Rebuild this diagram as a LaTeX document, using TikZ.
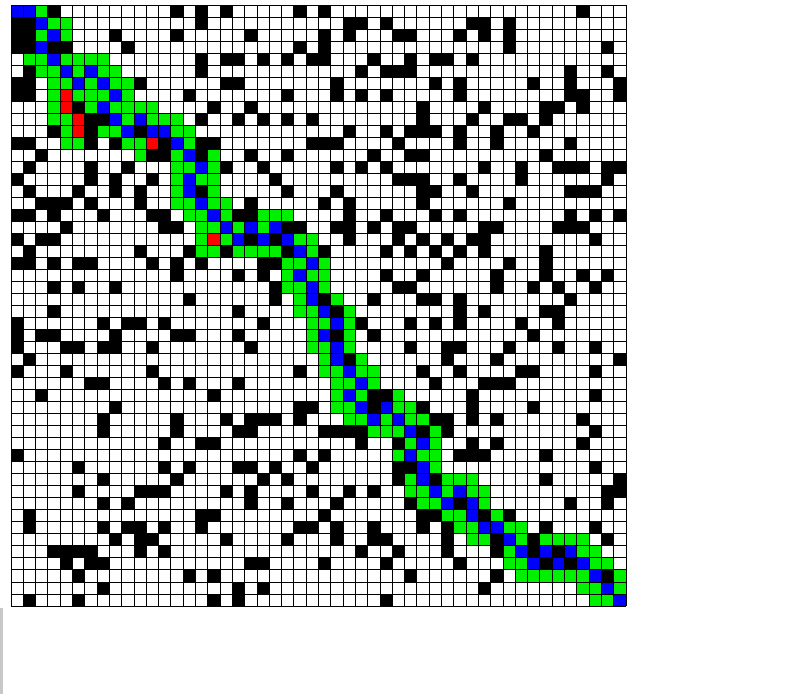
\documentclass[tikz,border=0pt]{standalone}
\usepackage{tikz}
\definecolor{Wall}{HTML}{000000}
\definecolor{Open}{HTML}{00F000}
\definecolor{Route}{HTML}{0000FF}
\definecolor{Probe}{HTML}{FF0000}
\definecolor{Edge}{HTML}{C8C8C8}
\newcommand\gridx{11}
\newcommand\gridy{5}
\newcommand\cellw{12.3}
\newcommand\cellh{12.02}
\tikzset{
  wall/.style={fill=Wall},
  open/.style={fill=Open},
  route/.style={fill=Route},
  probe/.style={fill=Probe},
  gridline/.style={draw=black, line width=0.9pt}
}

\begin{document}
\begin{tikzpicture}[x=1pt,y=-1pt]
    \useasboundingbox (0,0) rectangle (790,694);
    \fill[Edge] (0,608) rectangle (3,694);
    % walls
    \foreach \r/\cols in {0/{3,13,15,17,23,25,46},1/{0,1,15,27,28,30,37,38,40},
      2/{0,1,8,13,19,25,27,31,32,36,38,40},3/{0,1,3,4,9,23,25,40,48},
      4/{15,17,18,20,22,24,25,29,32,34,35,37},5/{1,15,28,30,31,32,45,48},
      6/{0,1,10,17,18,26,34,36,42,45,49},7/{0,1,14,22,26,28,30,36,45,46,49},
      8/{5,16,19,33,38,43,44,46},9/{6,7,15,18,20,22,24,33,37,40,41,43},
      10/{3,6,10,27,30,32,33,34,36,39,42},11/{0,1,6,8,12,15,16,24,25,26,31,36,39,45},
      12/{2,11,12,15,19,22,29,32,33,43},13/{1,6,9,17,20,26,28,30,38,41,44,45,46,48,49},
      14/{0,6,8,11,21,31,32,33,36,41,48},15/{1,5,8,10,15,22,26,33,34,37,45,46,47},
      16/{2,3,4,6,10,19,25,27,33,40},17/{0,1,3,7,11,12,18,19,27,30,34,36,45,47,49},
      18/{4,12,13,22,23,26,27,29,31,32,38,39,44,45,46},19/{0,2,3,19,21,27,31,33,35,37,38,47},
      20/{1,10,14,17,22,25,30,32,34,36,38,43},21/{0,1,3,5,6,11,13,15,20,21,35,40,43},
      22/{13,18,20,30,33,39,43,46,48},23/{3,5,8,21,31,32,39,42,44,47},
      24/{14,21,25,29,33,34,36,45},25/{3,18,26,36,38,43,44},
      26/{0,7,9,10,12,20,28,32,34,36,41,44},27/{0,2,3,8,13,14,18,26,29,42},
      28/{0,4,5,7,8,11,19,32,35,36,40,44,47},29/{1,27,35,39,49},
      30/{0,4,11,23,33,36,41,42,47},31/{6,7,12,14,18,34,38,39,40},
      32/{2,16,29,30,37,47},33/{8,23,24,29,33,37,42},
      34/{7,13,17,19,20,21,23,34,35,37,39,46},35/{7,13,18,19,25,26,27,28,33,35,47},
      36/{12,15,16,28,31,37,39,46},37/{0,23,25,36,37,38,43},
      38/{5,12,14,18,19,21,24,31,32,47},39/{7,13,20,22,31,34,43,49},
      40/{5,10,11,12,17,19,24,27,29,48,49},41/{7,9,19,22,26,32,36,45,48},
      42/{1,15,16,25,33,34,38,40},43/{1,7,9,10,12,15,23,24,26,29,33,35,43,47},
      44/{8,10,11,17,22,26,29,30,35,39,42,48},45/{3,4,5,6,10,12,28,31,35,39,42,44},
      46/{4,6,7,19,20,25,30,36,43,45},47/{5,14,16,32,39,48},
      48/{7,18,20,38},49/{1,5,16,18,30}}
      \foreach \c in \cols
        \fill[wall] ({\gridx+\cellw*\c},{\gridy+\cellh*\r}) rectangle ++(\cellw,\cellh);
    % explored cells
    \foreach \r/\cols in {0/{2},1/{3,4},2/{2,4},4/{1,2,4,5,6,7},5/{2,3,5,7,8},
      6/{3,4,6,8,9},7/{3,5,6,7,9},8/{3,6,8,9,10,11},9/{3,4,9,11,12,13},
      10/{4,7,8,13,14},11/{4,5,9,10,14},12/{10,13,16},13/{13,14,16},
      14/{13,15,16},15/{13,16},16/{13,14,16,17},17/{14,15,17,20,21,22},
      18/{15,16,18,20},19/{15,17,23,24},20/{15,16,18,19,20,21,24},
      21/{22,23,25},22/{22,24,25},23/{22,23,25},24/{23,26},25/{23,24,27},
      26/{24,25,27},27/{24,27},28/{24,25,27},29/{25,28},30/{25,26,28,29},
      31/{26,27,29},32/{26,28,31},33/{26,27,31,32},34/{27,28,30,32,33},
      35/{29,30,31,34},36/{32,34},37/{31,33,34},38/{34},39/{32,35,36,37},
      40/{32,33,35,37,38},41/{33,34,38},42/{35,36,39},43/{36,37,40,41},
      44/{37,38,41,43,44,45,46},45/{40,46,47},46/{40,41,47,48},
      47/{41,42,43,44,45,46,49},48/{46,47,49},49/{47,48}}
      \foreach \c in \cols
        \fill[open] ({\gridx+\cellw*\c},{\gridy+\cellh*\r}) rectangle ++(\cellw,\cellh);
    % path
    \foreach \r/\cols in {0/{0,1},1/{2},2/{3},3/{2},4/{3},5/{4,6},6/{5,7},7/{8},8/{7},
      9/{8,10},10/{9,11,12},11/{13},12/{14},13/{15},14/{14},15/{14},16/{15},17/{16},
      18/{17,19,21},19/{18,20,22},20/{23},21/{24},22/{23},23/{24},24/{24},25/{25},
      26/{26},27/{25},28/{26},29/{26},30/{27},31/{28},32/{27},33/{28,30},34/{29,31},
      35/{32},36/{33},37/{32},38/{33},39/{33},40/{34,36},41/{35,37},42/{37},
      43/{38,39},44/{40},45/{41,43,45},46/{42,44,46},47/{47},48/{48},49/{49}}
      \foreach \c in \cols
        \fill[route] ({\gridx+\cellw*\c},{\gridy+\cellh*\r}) rectangle ++(\cellw,\cellh);
    % current cells
    \foreach \r/\c in {7/4,8/4,9/5,10/5,11/11,19/16}
      \fill[probe] ({\gridx+\cellw*\c},{\gridy+\cellh*\r}) rectangle ++(\cellw,\cellh);
    % grid
    \foreach \i in {0,...,50} {
      \draw[gridline] ({\gridx+\cellw*\i},\gridy) -- ++(0,{50*\cellh});
      \draw[gridline] (\gridx,{\gridy+\cellh*\i}) -- ++({50*\cellw},0);
    }
\end{tikzpicture}
\end{document}
